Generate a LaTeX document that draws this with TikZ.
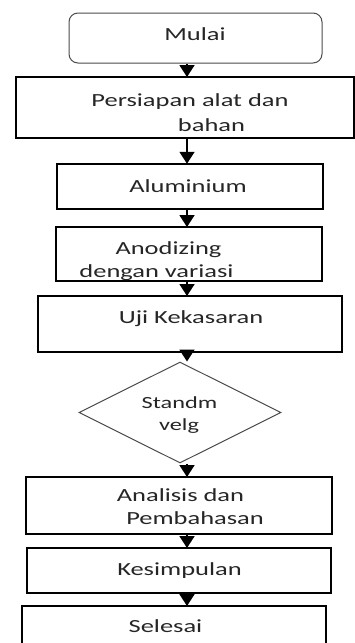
\documentclass[tikz,border=0pt]{standalone}
\usepackage{fontspec}
\setmainfont{Carlito}[FakeStretch=1.43]
\usetikzlibrary{shapes.geometric,arrows.meta}
\begin{document}
\begin{tikzpicture}[x=1pt,y=-1pt,
  box/.style={draw=black, line width=1.8pt, rectangle, inner sep=0pt, outer sep=0pt},
  lbl/.style={anchor=base, inner sep=0pt, font=\fontsize{18.5}{22}\selectfont, text=black!85},
  arr/.style={line width=1.8pt, -{Triangle[width=15pt,length=12pt]}}]
\useasboundingbox (0,0) rectangle (355,643);
\clip (0,0) rectangle (355,643);
\fill[white] (0,0) rectangle (355,643);

% column of the connectors
\coordinate (ax) at (187,0);

% boxes
\node[draw=black!70, line width=1pt, rounded corners=9pt, inner sep=0pt,
      minimum width=253pt, minimum height=50pt] (mulai) at (195.5,38) {};
\node[box, minimum width=338pt, minimum height=61pt] (pers) at (185,107.5) {};
\node[box, minimum width=266pt, minimum height=45.5pt] (alu) at (190,186.5) {};
\node[box, minimum width=266pt, minimum height=54pt] (anod) at (189,254) {};
\node[box, minimum width=304pt, minimum height=56pt] (uji) at (190,324) {};
\node[diamond, draw=black!70, line width=1pt, inner sep=0pt, aspect=2,
      minimum width=202pt, minimum height=101pt] (std) at (180,412.5) {};
\node[box, minimum width=306pt, minimum height=57pt] (anal) at (179,505.5) {};
\node[box, minimum width=304pt, minimum height=45pt] (kes) at (179,570.5) {};
\node[box, minimum width=304pt, minimum height=54pt] (sel) at (174,633) {};

% labels
\node[lbl] (tmulai) at (195,40.7) {Mulai};
\node[lbl] (tpers1) at (190,106) {Persiapan alat dan};
\node[lbl] (tpers2) at (211.5,131) {bahan};
\node[lbl] (talu) at (188,192) {Aluminium};
\node[lbl] (tanod1) at (168.5,254) {Anodizing};
\node[lbl] (tanod2) at (156.5,277) {dengan variasi};
\node[lbl] (tuji) at (191,323) {Uji Kekasaran};
\node[lbl, font=\fontsize{17}{20}\selectfont] (tstd1) at (179.5,408) {Standm};
\node[lbl, font=\fontsize{17}{20}\selectfont] (tstd2) at (179,430) {velg};
\node[lbl] (tanal1) at (180.5,501) {Analisis dan};
\node[lbl] (tanal2) at (195,524) {Pembahasan};
\node[lbl] (tkes) at (179.5,575) {Kesimpulan};
\node[lbl] (tsel) at (165.5,632) {Selesai};

% connectors
\draw[arr] (mulai.south -| ax) -- (pers.north -| ax);
\draw[arr] (pers.south -| ax) -- (alu.north -| ax);
\draw[arr] (alu.south -| ax) -- (anod.north -| ax);
\draw[arr] (anod.south -| ax) -- (uji.north -| ax);
\draw[arr] (uji.south -| ax) -- (std.north -| ax);
\draw[arr] (std.south -| ax) -- (anal.north -| ax);
\draw[arr] (anal.south -| ax) -- (kes.north -| ax);
\draw[arr] (kes.south -| ax) -- (sel.north -| ax);
\end{tikzpicture}
\end{document}
